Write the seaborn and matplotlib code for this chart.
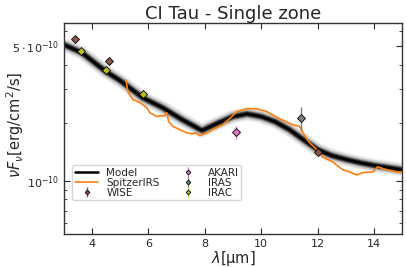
import numpy as np
import pandas as pd
import seaborn as sns
import matplotlib
matplotlib.use("Agg")
import matplotlib.pyplot as plt
from matplotlib.ticker import FixedLocator, FuncFormatter, NullFormatter

# model SED (median of the sampled models)
model_wl = [3.0, 3.64, 4.5, 5.0, 5.8, 6.5, 7.2, 7.9, 8.5, 9.0, 9.5, 10.0, 10.5,
            11.0, 11.5, 12.0, 12.5, 13.0, 13.5, 14.0, 14.5, 15.0]
model_flux = [5.07e-10, 4.60e-10, 3.67e-10, 3.30e-10, 2.69e-10, 2.39e-10, 2.07e-10,
              1.82e-10, 2.00e-10, 2.15e-10, 2.22e-10, 2.15e-10, 2.02e-10, 1.84e-10,
              1.63e-10, 1.45e-10, 1.35e-10, 1.29e-10, 1.24e-10, 1.20e-10, 1.17e-10, 1.14e-10]

# Spitzer IRS spectrum
irs_wl = [5.20, 5.27, 5.45, 5.70, 5.94, 6.05, 6.30, 6.40, 6.58, 6.65, 6.72, 6.87, 7.11,
          7.36, 7.57, 7.68, 7.82, 8.07, 8.28, 8.64, 8.96, 9.13, 9.49, 9.84, 10.20, 10.66,
          11.12, 11.37, 11.48, 11.72, 11.97, 12.18, 12.54, 12.89, 13.14, 13.39, 13.60,
          13.96, 14.13, 14.45, 14.81, 15.0]
irs_flux = [3.33e-10, 2.89e-10, 2.63e-10, 2.54e-10, 2.39e-10, 2.25e-10, 2.15e-10, 2.17e-10,
            2.17e-10, 2.25e-10, 2.02e-10, 1.91e-10, 1.84e-10, 1.77e-10, 1.75e-10, 1.77e-10,
            1.71e-10, 1.77e-10, 1.84e-10, 1.95e-10, 2.15e-10, 2.28e-10, 2.36e-10, 2.36e-10,
            2.28e-10, 2.09e-10, 1.95e-10, 1.91e-10, 1.77e-10, 1.57e-10, 1.45e-10, 1.33e-10,
            1.25e-10, 1.14e-10, 1.11e-10, 1.07e-10, 1.10e-10, 1.11e-10, 1.18e-10, 1.14e-10,
            1.11e-10, 1.11e-10]

# photometry
wise_wl = [3.4, 4.6, 12.0]
wise_flux = [5.43e-10, 4.18e-10, 1.41e-10]
wise_err = [0.10e-10, 0.08e-10, 0.04e-10]

akari_wl = [9.1]
akari_flux = [1.79e-10]
akari_err = [0.14e-10]

iras_wl = [11.4]
iras_flux = [2.12e-10]
iras_err = [0.30e-10]

irac_wl = [3.6, 4.5, 5.8]
irac_flux = [4.71e-10, 3.76e-10, 2.82e-10]
irac_err = [0.10e-10, 0.08e-10, 0.06e-10]

# y ticks
ytick_major = [1e-10, 5e-10]
ytick_labels = [r"$10^{-10}$", r"$5\cdot10^{-10}$"]
ytick_minor = [6e-11, 7e-11, 8e-11, 9e-11, 2e-10, 3e-10, 4e-10, 6e-10]

sns.set_style("ticks")
plt.rcParams["font.family"] = ["DejaVu Sans"]

fig = plt.figure(figsize=(4.07, 2.67), dpi=100)
ax = fig.add_axes([0.157, 0.124, 0.831, 0.790])

model = pd.DataFrame({"wl": model_wl, "flux": model_flux})
# grey bundle of sampled models, drawn as stacked strokes
for lw, c in [(10, "#f2f2f2"), (8.5, "#e2e2e2"), (7, "#cacaca"), (5.5, "#a5a5a5"),
              (4.2, "#6a6a6a"), (3.2, "#303030")]:
    sns.lineplot(data=model, x="wl", y="flux", ax=ax, color=c, lw=lw, zorder=1,
                 solid_capstyle="butt")
sns.lineplot(data=model, x="wl", y="flux", ax=ax, color="black", lw=1.8, zorder=2, label="Model")

irs = pd.DataFrame({"wl": irs_wl, "flux": irs_flux})
sns.lineplot(data=irs, x="wl", y="flux", ax=ax, color="#ff7f0e", lw=1.2, zorder=3, label="SpitzerIRS")

phot = [("WISE", wise_wl, wise_flux, wise_err, "#8c564b"),
        ("AKARI", akari_wl, akari_flux, akari_err, "#e377c2"),
        ("IRAS", iras_wl, iras_flux, iras_err, "#7f7f7f"),
        ("IRAC", irac_wl, irac_flux, irac_err, "#bcbd22")]
for name, wl, fl, er, c in phot:
    ax.errorbar(wl, fl, yerr=er, fmt="D", ms=4, mfc=c, mec="black", mew=0.6,
                ecolor=c, elinewidth=1, label=name, zorder=4)

ax.set_yscale("log")
ax.set_xlim(3, 15)
ax.set_ylim(5.3e-11, 6.57e-10)
ax.set_xticks([4, 6, 8, 10, 12, 14])

labmap = dict(zip(ytick_major, ytick_labels))
ax.yaxis.set_major_locator(FixedLocator(ytick_major))
ax.yaxis.set_major_formatter(FuncFormatter(lambda v, p: labmap.get(v, "")))
ax.yaxis.set_minor_locator(FixedLocator(ytick_minor))
ax.yaxis.set_minor_formatter(NullFormatter())

ax.tick_params(which="both", direction="in", top=True, right=True, labelsize=8)
ax.tick_params(which="major", length=4)
ax.tick_params(which="minor", length=2.5)
for s in ax.spines.values():
    s.set_linewidth(1.0)
    s.set_color("#333333")

ax.set_title("CI Tau - Single zone", fontsize=13, pad=3)
ax.set_xlabel(r"$\lambda$[µm]", fontsize=10.5, labelpad=0)
ax.set_ylabel(r"$\nu F_\nu$[erg/cm$^2$/s]", fontsize=10.5)
ax.yaxis.set_label_coords(-0.112, 0.515)

handles, labels = ax.get_legend_handles_labels()
order = ["Model", "SpitzerIRS", "WISE", "AKARI", "IRAS", "IRAC"]
hl = dict(zip(labels, handles))
ax.legend([hl[k] for k in order], order, loc="lower left", ncol=2, fontsize=7.5,
          bbox_to_anchor=(0.01, 0.135), frameon=True, handlelength=2.2, markerscale=0.6,
          labelspacing=0.0, columnspacing=1.6, borderpad=0.25, handletextpad=0.8)

fig.savefig("out.png", dpi=100)
